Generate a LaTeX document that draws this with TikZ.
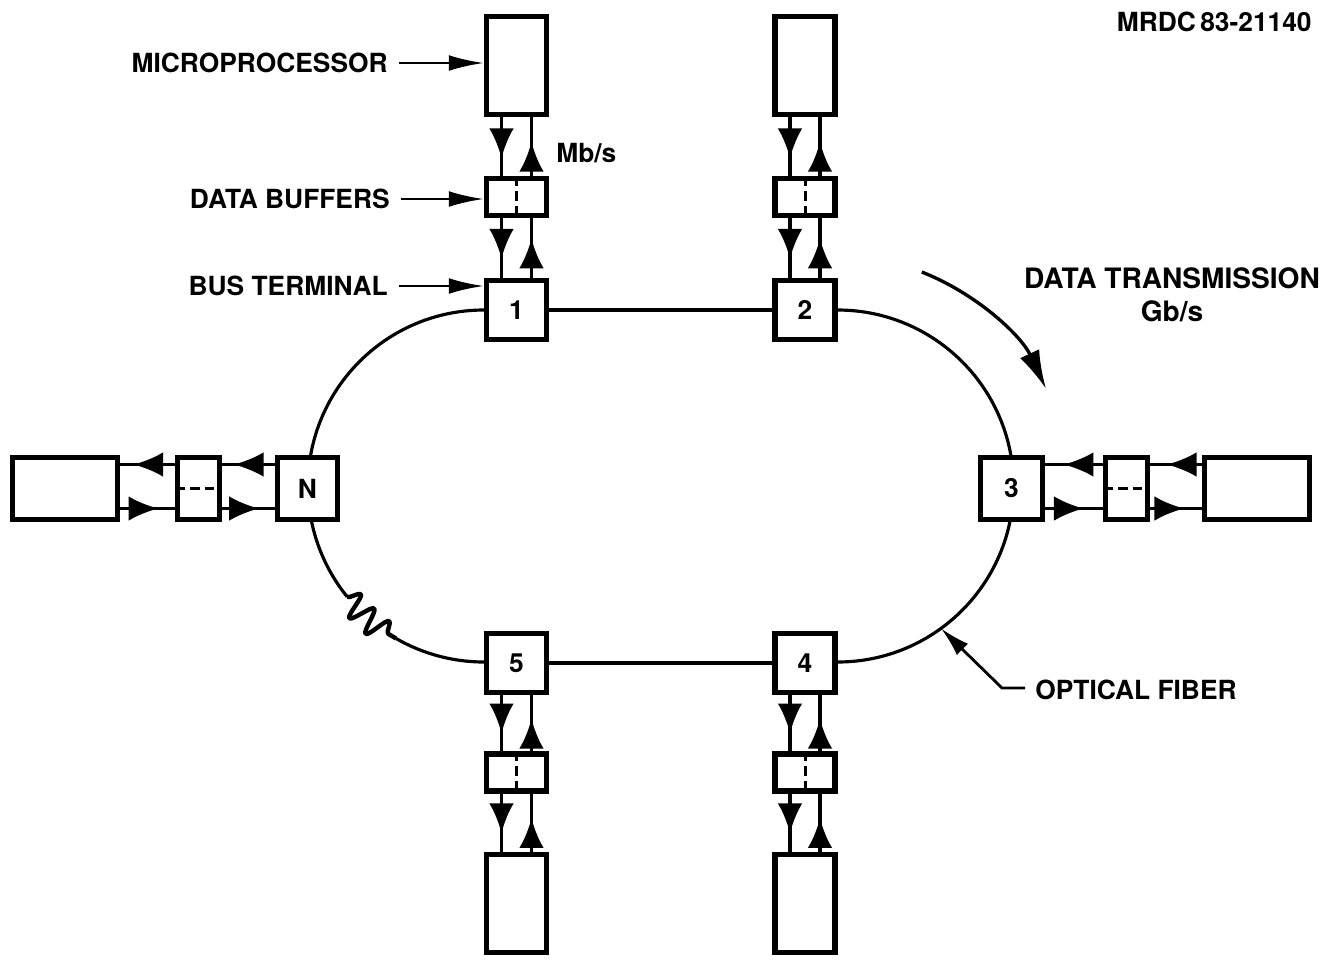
\documentclass[tikz,border=0pt]{standalone}
\usepackage{fontspec}
\setmainfont{TeX Gyre Heros}
\usetikzlibrary{arrows.meta,decorations.markings,decorations.pathmorphing,calc,backgrounds}
\begin{document}
\begin{tikzpicture}[x=0.02cm,y=-0.02cm,
  txt/.style={inner sep=0pt,font=\bfseries\fontsize{15}{18}\selectfont},
  box/.style={draw,line width=2.9pt,fill=white,inner sep=0pt,font=\bfseries\fontsize{15}{18}\selectfont},
  sz/.style 2 args={minimum width=#1*0.02cm,minimum height=#2*0.02cm},
  ln/.style={line width=1.9pt},
  ring/.style={line width=1.8pt},
  midtip/.tip={Latex[length=17pt,width=14pt]},
  midf/.style={ln,postaction={decorate},decoration={markings,mark=at position #1 with {\arrow{midtip}}}},
  lab/.style={line width=1.6pt,-{Latex[length=20pt,width=9pt]},shorten <=6pt},
  dsh/.style={line width=1.7pt,dash pattern=on 5.5pt off 3pt}]
\useasboundingbox (0,0) rectangle (1336,965);

% ---- top columns
\node[box,sz={60}{98}] (mA) at (516.5,65.5) {};
\node[box,sz={60}{37}] (bA) at (516.5,197) {};
\node[box,sz={60}{59}] (t1) at (516.5,310) {1};
\node[box,sz={60}{98}] (mB) at (805,65.5) {};
\node[box,sz={60}{37}] (bB) at (805,197) {};
\node[box,sz={60}{59}] (t2) at (805,310) {2};
% ---- bottom columns
\node[box,sz={60}{59}] (t5) at (516.5,663) {5};
\node[box,sz={60}{37}] (b5) at (516.5,772.5) {};
\node[box,sz={60}{98}] (m5) at (516.5,903.5) {};
\node[box,sz={60}{59}] (t4) at (805,663) {4};
\node[box,sz={60}{37}] (b4) at (805,772.5) {};
\node[box,sz={60}{98}] (m4) at (805,903.5) {};
% ---- left row
\node[box,sz={60}{62}] (tN) at (307.5,488.5) {N};
\node[box,sz={42}{62}] (bN) at (198.5,488.5) {};
\node[box,sz={105}{62}] (mN) at (65,488.5) {};
% ---- right row
\node[box,sz={62}{62}] (t3) at (1011.5,488.5) {3};
\node[box,sz={42}{62}] (b3) at (1126.5,488.5) {};
\node[box,sz={105}{62}] (m3) at (1257,488.5) {};

% ---- ring (optical fiber)
\begin{scope}[on background layer]
\draw[ring] (t1.east) -- (t2.west);
\draw[ring] (t5.east) -- (t4.west);
\draw[ring] (t1.west) arc[start angle=-90,end angle=-219,radius=176] coordinate (z1);
\draw[line width=2.5pt,line join=round,decorate,decoration={snake,amplitude=7pt,segment length=12pt}] (z1) arc[start angle=-219,end angle=-240,radius=176] coordinate (z2);
\draw[ring] (z2) arc[start angle=-240,end angle=-270,radius=176];
\draw[ring] (t2.east) arc[start angle=-90,end angle=90,radius=176];
\end{scope}
\coordinate (rc) at ($(t2.east)+(0,176)$);
\coordinate (fib) at ($(rc)+(54:176)$);

% ---- dashed dividers in buffers
\foreach \b in {bA,bB,b5,b4} \draw[dsh] (\b.north) -- (\b.south);
\foreach \b in {bN,b3} \draw[dsh] (\b.west) -- (\b.east);

% ---- vertical links, top columns
\foreach \m/\b/\t in {mA/bA/t1,mB/bB/t2}{
  \draw[midf=0.7] ($(\m.south)+(-15,0)$) -- ($(\b.north)+(-15,0)$);
  \draw[midf=0.58] ($(\b.north)+(15,0)$) -- ($(\m.south)+(15,0)$);
  \draw[midf=0.68] ($(\b.south)+(-15,0)$) -- ($(\t.north)+(-15,0)$);
  \draw[midf=0.66] ($(\t.north)+(15,0)$) -- ($(\b.south)+(15,0)$);
}
% ---- vertical links, bottom columns
\foreach \m/\b/\t in {m5/b5/t5,m4/b4/t4}{
  \draw[midf=0.68] ($(\t.south)+(-15,0)$) -- ($(\b.north)+(-15,0)$);
  \draw[midf=0.58] ($(\b.north)+(15,0)$) -- ($(\t.south)+(15,0)$);
  \draw[midf=0.68] ($(\b.south)+(-15,0)$) -- ($(\m.north)+(-15,0)$);
  \draw[midf=0.58] ($(\m.north)+(15,0)$) -- ($(\b.south)+(15,0)$);
}
% ---- horizontal links, left row
\draw[midf=0.78] ($(tN.west)+(0,-24)$) -- ($(bN.east)+(0,-24)$);
\draw[midf=0.76] ($(bN.west)+(0,-24)$) -- ($(mN.east)+(0,-24)$);
\draw[midf=0.7] ($(mN.east)+(0,20)$) -- ($(bN.west)+(0,20)$);
\draw[midf=0.7] ($(bN.east)+(0,20)$) -- ($(tN.west)+(0,20)$);
% ---- horizontal links, right row
\draw[midf=0.68] ($(m3.west)+(0,-24)$) -- ($(b3.east)+(0,-24)$);
\draw[midf=0.68] ($(b3.west)+(0,-24)$) -- ($(t3.east)+(0,-24)$);
\draw[midf=0.67] ($(t3.east)+(0,20)$) -- ($(b3.west)+(0,20)$);
\draw[midf=0.66] ($(b3.east)+(0,20)$) -- ($(m3.west)+(0,20)$);

% ---- labels
\node[txt,anchor=east] (lM) at (388,63) {MICROPROCESSOR};
\node[txt,anchor=east] (lD) at (390,199) {DATA BUFFERS};
\node[txt,anchor=east] (lB) at (388,286) {BUS TERMINAL};
\draw[lab] (lM.east) -- (mA.west |- lM.east);
\draw[lab] (lD.east) -- (bA.west |- lD.east);
\draw[lab] (lB.east) -- (t1.west |- lB.east);
\node[txt,anchor=west] (mbs) at (556,153) {Mb/s};
\node[txt,anchor=east] (id) at (1312,22) {MRDC\,83-21140};
\node[txt,align=center,font=\bfseries\fontsize{16}{19}\selectfont] (dt) at (1172,295) {DATA TRANSMISSION\\Gb/s};
\draw[line width=1.9pt,-{Latex[length=22pt,width=12pt]}] ([shift={(-68.5:230)}]rc) arc[start angle=-68.5,end angle=-25,radius=230];
\node[txt,anchor=west] (of) at (1035,690) {OPTICAL FIBER};
\draw[line width=1.6pt,-{Latex[length=17pt,width=9pt]}] ($(of.west)+(-10,-2)$) -- ($(of.west)+(-33,-2)$) -- (fib);
\end{tikzpicture}
\end{document}
